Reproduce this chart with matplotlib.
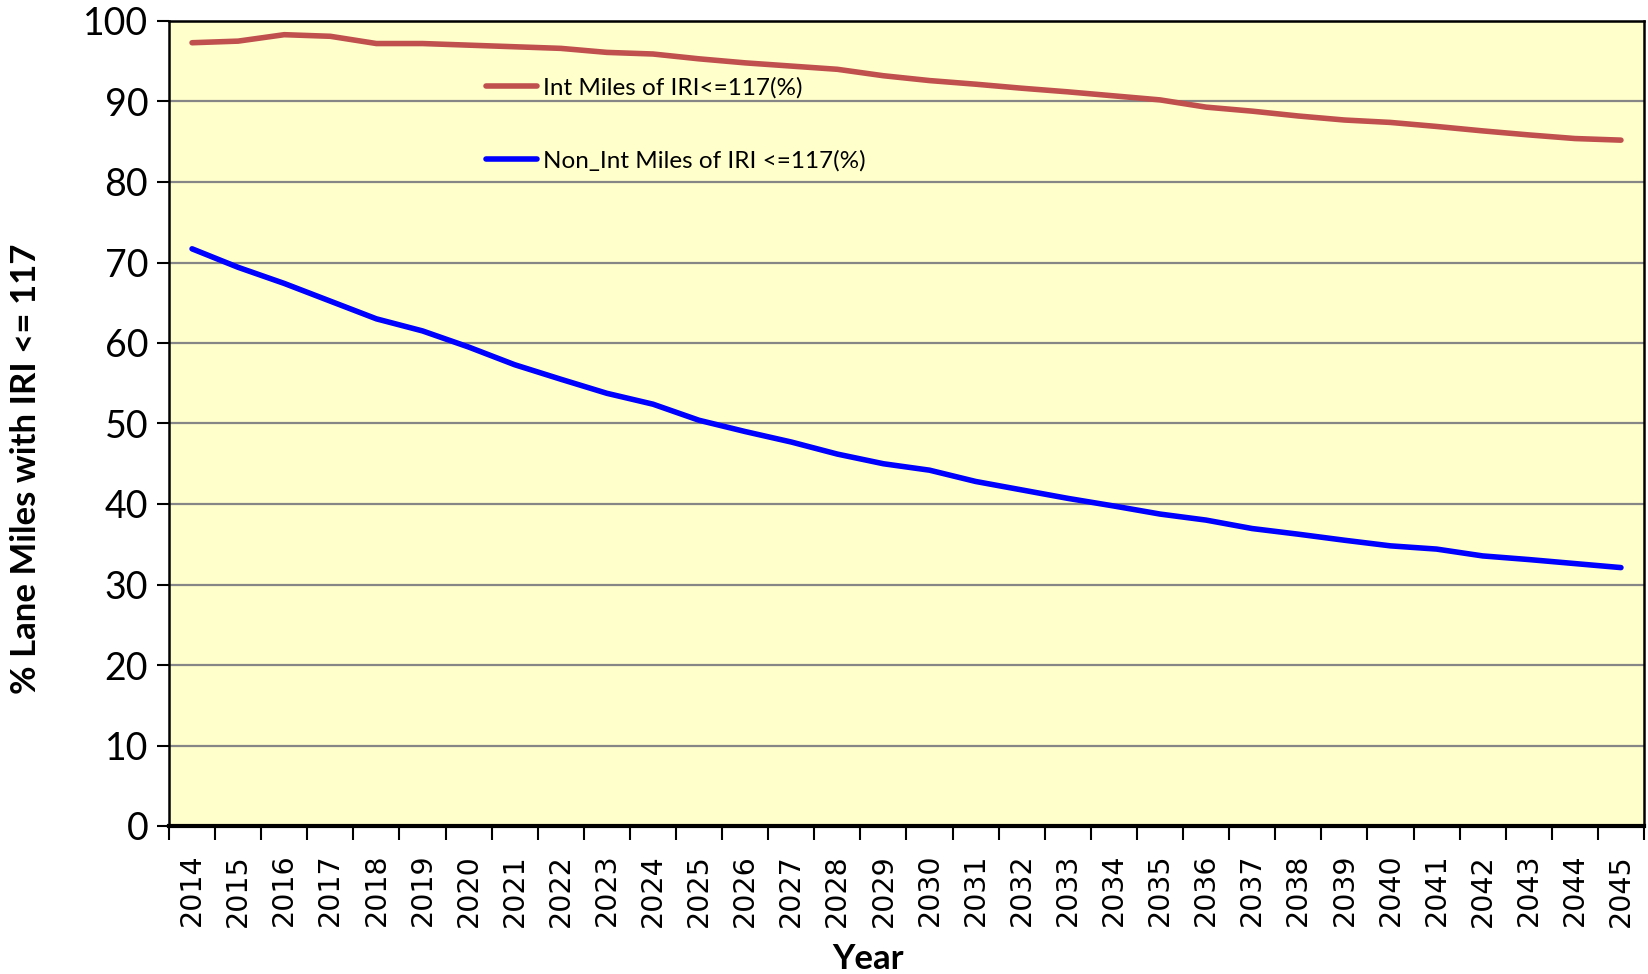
import matplotlib
matplotlib.use("Agg")
import matplotlib.pyplot as plt
from matplotlib.ticker import FixedLocator, NullFormatter

years = list(range(2014, 2046))
int_miles = [97.3, 97.5, 98.3, 98.1, 97.2, 97.2, 97.0, 96.8, 96.6, 96.1, 95.9, 95.3,
             94.8, 94.4, 94.0, 93.2, 92.6, 92.15, 91.65, 91.2, 90.7, 90.2, 89.3, 88.8,
             88.2, 87.7, 87.4, 86.9, 86.35, 85.85, 85.4, 85.2]
non_int_miles = [71.7, 69.4, 67.4, 65.2, 63.0, 61.5, 59.5, 57.3, 55.5, 53.75, 52.4, 50.4,
                 49.0, 47.7, 46.2, 45.0, 44.2, 42.8, 41.75, 40.7, 39.75, 38.75, 38.0, 36.95,
                 36.25, 35.5, 34.8, 34.4, 33.55, 33.1, 32.6, 32.1]
labels = ["Int Miles of IRI<=117(%)", "Non_Int Miles of IRI <=117(%)"]
yticks = list(range(0, 101, 10))

W, H = 1649, 974
fig = plt.figure(figsize=(W / 100, H / 100), dpi=100)
ax = fig.add_axes([169 / W, 1 - 826 / H, (1644 - 169) / W, (826 - 21) / H])
ax.set_facecolor("#FFFFCC")

x = list(range(len(years)))
ax.plot(x, int_miles, color="#C0504D", lw=4, solid_capstyle="round", label=labels[0], zorder=3)
ax.plot(x, non_int_miles, color="#0000FF", lw=4, solid_capstyle="round", label=labels[1], zorder=3)

ax.set_xlim(-0.5, len(years) - 0.5)
ax.set_ylim(0, 100)
ax.set_yticks(yticks)
ax.yaxis.grid(True, color="#868686", lw=1.6)
ax.set_axisbelow(True)

ax.set_xticks(x)
ax.set_xticklabels([str(y) for y in years], rotation=90, fontfamily="DejaVu Sans", fontsize=20.5)
ax.tick_params(axis="x", which="major", length=0, pad=20)
ax.xaxis.set_minor_locator(FixedLocator([i - 0.5 for i in range(len(years) + 1)]))
ax.xaxis.set_minor_formatter(NullFormatter())
ax.tick_params(axis="x", which="minor", length=10, width=1.5, direction="out")
ax.tick_params(axis="y", length=9, width=1.5, direction="out", pad=6, labelsize=27)
for lab in ax.get_yticklabels():
    lab.set_fontfamily("Lato")

for s in ax.spines.values():
    s.set_linewidth(1.8)
ax.spines["bottom"].set_linewidth(3)

ax.set_ylabel("% Lane Miles with IRI <= 117", fontfamily="Lato", fontweight="bold", fontsize=25)
ax.yaxis.set_label_coords(-0.086, 0.444)
ax.set_xlabel("Year", fontfamily="Lato", fontweight="bold", fontsize=25)
ax.xaxis.set_label_coords(0.474, -0.145)

leg = ax.legend(loc="upper left", bbox_to_anchor=(0.2085, 0.943), frameon=False,
                prop={"family": "Lato", "size": 17.5}, handlelength=2.1, handletextpad=0.25,
                labelspacing=2.15, borderaxespad=0)

fig.savefig("out.png", dpi=100, facecolor="white")
